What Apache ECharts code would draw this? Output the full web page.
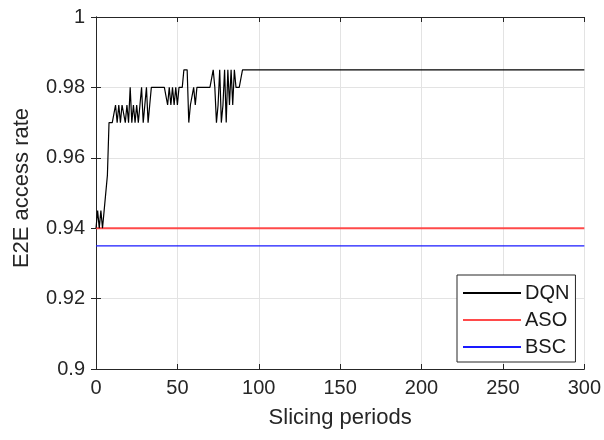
<html>
<meta charset="UTF-8">
<head>
    <script src="https://cdn.jsdelivr.net/npm/echarts@6/dist/echarts.min.js"></script>
</head>
<body style="margin:0;background:#fff">

<div id="chart" style="width:604px;height:440px;"></div>

</body>
<script>
    // x: slicing periods, y: E2E access rate
    var dqnPeriods = [0, 1, 2, 3, 4, 5, 6, 7, 8, 9, 10, 11, 12, 13, 14, 15, 16, 17, 18, 19,
        20, 21, 22, 23, 24, 25, 26, 27, 28, 29, 30, 31, 32, 33, 34, 35, 36, 37, 38, 39,
        40, 41, 42, 43, 44, 45, 46, 47, 48, 49, 50, 51, 52, 53, 54, 55, 56, 57, 58, 59,
        60, 61, 62, 63, 64, 65, 66, 67, 68, 69, 70, 71, 72, 73, 74, 75, 76, 77, 78, 79,
        80, 81, 82, 83, 84, 85, 86, 87, 88, 89, 90, 300];
    var dqnValues = [0.94, 0.945, 0.94, 0.945, 0.94, 0.945, 0.945, 0.955, 0.97, 0.97,
        0.97, 0.97, 0.975, 0.97, 0.975, 0.97, 0.975, 0.975, 0.97, 0.975,
        0.97, 0.98, 0.97, 0.975, 0.97, 0.975, 0.97, 0.975, 0.98, 0.97,
        0.975, 0.98, 0.97, 0.975, 0.98, 0.98, 0.98, 0.98, 0.98, 0.98,
        0.98, 0.98, 0.98, 0.98, 0.975, 0.98, 0.975, 0.98, 0.975, 0.98,
        0.975, 0.98, 0.98, 0.98, 0.985, 0.985, 0.985, 0.97, 0.975, 0.975,
        0.98, 0.975, 0.98, 0.98, 0.98, 0.98, 0.98, 0.98, 0.98, 0.98,
        0.98, 0.98, 0.985, 0.98, 0.97, 0.975, 0.985, 0.97, 0.975, 0.985,
        0.97, 0.985, 0.975, 0.985, 0.975, 0.985, 0.98, 0.98, 0.98, 0.98,
        0.985, 0.985];
    var asoPeriods = [0, 300];
    var asoValues = [0.94, 0.94];
    var bscPeriods = [0, 300];
    var bscValues = [0.935, 0.935];

    var xTicks = [0, 50, 100, 150, 200, 250, 300];
    var yTicks = [0.9, 0.92, 0.94, 0.96, 0.98, 1];

    function pairs(xs, ys) {
        var out = [];
        for (var i = 0; i < xs.length; i++) {
            out.push([xs[i], ys[i]]);
        }
        return out;
    }

    var font = 'Liberation Sans, Arial, sans-serif';
    var ink = '#262626';
    var chart = echarts.init(document.getElementById('chart'));

    var xBase = {
        type: 'value',
        min: xTicks[0],
        max: xTicks[xTicks.length - 1],
        interval: 50,
        axisLine: {show: true, lineStyle: {color: ink, width: 1}},
        axisTick: {show: true, inside: true, length: 5, lineStyle: {color: ink}}
    };
    var yBase = {
        type: 'value',
        min: yTicks[0],
        max: yTicks[yTicks.length - 1],
        interval: 0.02,
        axisLine: {show: true, lineStyle: {color: ink, width: 1}},
        axisTick: {show: true, inside: true, length: 5, lineStyle: {color: ink}}
    };

    var option = {
        animation: false,
        backgroundColor: '#fff',
        grid: {left: 96, right: 19, top: 17, bottom: 71, containLabel: false},
        legend: {
            orient: 'vertical',
            left: 457,
            top: 275,
            data: ['DQN', 'ASO', 'BSC'],
            icon: 'rect',
            itemWidth: 58,
            itemHeight: 2,
            itemGap: 7,
            padding: [8, 6, 5, 6],
            backgroundColor: '#fff',
            borderColor: ink,
            borderWidth: 1,
            borderRadius: 0,
            textStyle: {fontFamily: font, fontSize: 20, color: '#1a1a1a', padding: [0, 0, 0, -1]}
        },
        xAxis: [
            Object.assign({}, xBase, {
                position: 'bottom',
                name: 'Slicing periods',
                nameLocation: 'middle',
                nameGap: 38,
                nameTextStyle: {fontFamily: font, fontSize: 22, color: ink},
                axisLabel: {fontFamily: font, fontSize: 20, color: ink, margin: 9},
                splitLine: {show: true, lineStyle: {color: '#e3e3e3', width: 1}}
            }),
            Object.assign({}, xBase, {
                position: 'top',
                axisLabel: {show: false},
                splitLine: {show: false}
            })
        ],
        yAxis: [
            Object.assign({}, yBase, {
                position: 'left',
                name: 'E2E access rate',
                nameLocation: 'middle',
                nameGap: 63,
                nameTextStyle: {fontFamily: font, fontSize: 22, color: ink, padding: [0, 0, 0, 10]},
                axisLabel: {fontFamily: font, fontSize: 20, color: ink, margin: 11},
                splitLine: {show: true, lineStyle: {color: '#e3e3e3', width: 1}}
            }),
            Object.assign({}, yBase, {
                position: 'right',
                axisLabel: {show: false},
                splitLine: {show: false}
            })
        ],
        series: [
            {
                name: 'DQN',
                type: 'line',
                data: pairs(dqnPeriods, dqnValues),
                symbol: 'none',
                color: '#000',
                lineStyle: {color: '#000', width: 1.2},
                z: 3
            },
            {
                name: 'ASO',
                type: 'line',
                data: pairs(asoPeriods, asoValues),
                symbol: 'none',
                color: '#ff4a4a',
                lineStyle: {color: '#ff4a4a', width: 2},
                z: 2
            },
            {
                name: 'BSC',
                type: 'line',
                data: pairs(bscPeriods, bscValues),
                symbol: 'none',
                color: '#1a1aff',
                lineStyle: {color: '#1a1aff', width: 1.2},
                z: 2
            }
        ]
    };
    chart.setOption(option);
</script>
</html>
